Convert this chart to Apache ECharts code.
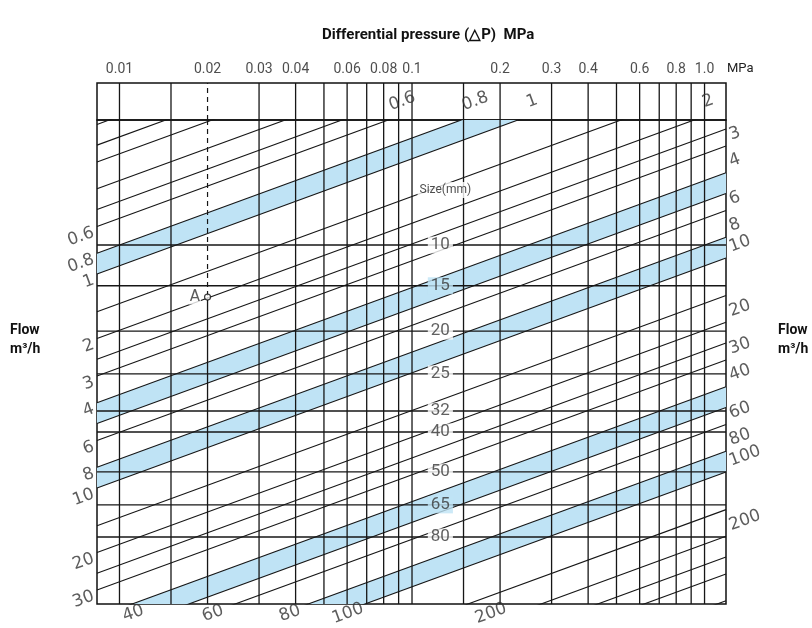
<!DOCTYPE html>
<html>
<head>
<meta charset="utf-8">
<script src="https://cdn.jsdelivr.net/npm/echarts/dist/echarts.min.js"></script>
<style>html,body{margin:0;padding:0;background:#fff}#c{width:812px;height:628px}</style>
</head>
<body>
<div id="c"></div>
<script>
// ---- data ----
const pressureLines = [0.01,0.015,0.02,0.03,0.04,0.05,0.06,0.07,0.08,0.09,0.1,0.15,0.2,0.3,0.4,0.5,0.6,0.7,0.8,0.9,1.0];
const pressureTickLabels = ['0.01','0.02','0.03','0.04','0.06','0.08','0.1','0.2','0.3','0.4','0.6','0.8','1.0'];
const sizeNames = ['10','15','20','25','32','40','50','65','80'];
const sizeCoef = [8.0,12.4,20.2,32.0,47.7,59.8,91.9,131,185];
const flowLines = [0.2,0.25,0.3,0.4,0.5,0.6,0.8,1,1.5,2,2.5,3,4,5,6,8,10,15,20,25,30,40,50,60,80,100,150,200,250,300,400];
const flowBands = [[0.8,1],[4,5],[8,10],[40,50],[80,100]];
const flowLabelsLeft = ['0.6','0.8','1','2','3','4','6','8','10','20','30'];
const flowLabelsRight = ['3','4','6','8','10','20','30','40','60','80','100','200'];
const flowLabelsTop = ['0.6','0.8','1','2'];
const flowLabelsBottom = ['40','60','80','100','200'];
const pointA = [0.02, 14.0];
const dpRange = [0.008378, 1.184];
const coefRange = [2.084, 380.6];

// ---- layout (label anchors, in axis units) ----
const sizeLabelPressure = 0.125;
const sizeTitleAt = [0.13, 4.43];
const bottomLabelPressure = [0.0109, 0.0204, 0.0374, 0.059, 0.182];

// ---- build ----
const dpMin = dpRange[0], dpMax = dpRange[1], kMin = coefRange[0], kMax = coefRange[1];
const ink = '#161616';
const bandColor = '#bfe3f5';
const series = [];

function seg(data, gi, style, z) {
  series.push({type:'line', xAxisIndex:gi, yAxisIndex:gi, data:data, symbol:'none', silent:true,
    animation:false, lineStyle:Object.assign({color:ink, width:1.2}, style||{}), z:z||3});
}

// bands
series.push({
  type:'custom', xAxisIndex:0, yAxisIndex:0, silent:true, animation:false, z:1,
  data: flowBands.map(b => [b[0], b[1]]),
  renderItem: function (params, api) {
    const b = flowBands[params.dataIndex];
    const pts = [
      api.coord([dpMin, b[0]/Math.sqrt(dpMin)]),
      api.coord([dpMax, b[0]/Math.sqrt(dpMax)]),
      api.coord([dpMax, b[1]/Math.sqrt(dpMax)]),
      api.coord([dpMin, b[1]/Math.sqrt(dpMin)])
    ];
    const cs = params.coordSys;
    return {type:'polygon', shape:{points:pts}, style:{fill:bandColor},
      clipPath:{type:'rect', shape:{x:cs.x, y:cs.y, width:cs.width, height:cs.height}}};
  }
});

// flow lines
flowLines.forEach(q => seg([[dpMin, q/Math.sqrt(dpMin)], [dpMax, q/Math.sqrt(dpMax)]], 0, {width:1.1}, 4));
// size lines
sizeCoef.forEach(k => seg([[dpMin, k], [dpMax, k]], 0, {width:1.4}, 3));
// pressure lines (body + header)
pressureLines.forEach(p => {
  if (p === pointA[0]) {
    seg([[p, kMin], [p, pointA[1]]], 0, {type:[5,4], width:1.2}, 3);
    seg([[p, pointA[1]], [p, kMax]], 0, {width:1.3}, 3);
    seg([[p, 0], [p, 1]], 1, {type:[5,4], width:1.2}, 3);
  } else {
    seg([[p, kMin], [p, kMax]], 0, {width:1.3}, 3);
    seg([[p, 0], [p, 1]], 1, {width:1.3}, 3);
  }
});

const flowFont = {fontFamily:"'DejaVu Sans', sans-serif", fontSize:17, color:'#333'};
function labels(points, texts, gi, lab, z, bgs) {
  series.push({type:'scatter', xAxisIndex:gi, yAxisIndex:gi, clip:false, silent:true, animation:false,
    symbolSize:1, itemStyle:{color:'rgba(0,0,0,0)'}, z:z||6,
    data: points.map((p, i) => ({value:p, label: bgs ? {formatter:texts[i], backgroundColor:bgs[i]} : {formatter:texts[i]}})),
    label: Object.assign({show:true}, lab)});
}
// flow labels
labels(flowLabelsLeft.map(t => [dpMin, parseFloat(t)/Math.sqrt(dpMin)]), flowLabelsLeft, 0,
  Object.assign({position:'left', distance:5, offset:[0,6], rotate:20}, flowFont));
labels(flowLabelsRight.map(t => [dpMax, parseFloat(t)/Math.sqrt(dpMax)]), flowLabelsRight, 0,
  Object.assign({position:'right', distance:7, offset:[0,-11], rotate:20}, flowFont));
labels(flowLabelsTop.map(t => [Math.pow(parseFloat(t)/kMin, 2), kMin]), flowLabelsTop, 0,
  Object.assign({position:'top', distance:4, offset:[18,0], rotate:20}, flowFont));
labels(bottomLabelPressure.map(p => [p, kMax]), flowLabelsBottom, 0,
  Object.assign({position:'bottom', distance:1, offset:[0,0], rotate:20}, flowFont));

// size labels (knock-out background matches band where the label sits inside one)
const sizeBgs = sizeCoef.map(k => {
  const q = k * Math.sqrt(sizeLabelPressure);
  return flowBands.some(b => q >= b[0] && q <= b[1]) ? bandColor : '#fff';
});
labels(sizeCoef.map(k => [sizeLabelPressure, k]), sizeNames, 0,
  {position:'inside', fontFamily:"'Roboto', sans-serif", fontSize:17, color:'#383838', padding:[0,3]}, 8, sizeBgs);
labels([sizeTitleAt], ['Size(mm)'], 0,
  {position:'inside', fontFamily:"'Roboto', sans-serif", fontSize:12, color:'#222',
   backgroundColor:'#fff', padding:[2,2]}, 8);

// header tick labels
labels(pressureTickLabels.map(t => [parseFloat(t), 1]), pressureTickLabels, 1,
  {position:'top', distance:6, fontFamily:"'Roboto', sans-serif", fontSize:14, color:'#222'});

// point A
series.push({type:'scatter', xAxisIndex:0, yAxisIndex:0, clip:false, silent:true, animation:false, z:9,
  data:[pointA], symbol:'circle', symbolSize:6,
  itemStyle:{color:'#fff', borderColor:'#111', borderWidth:1.2},
  label:{show:true, formatter:'A', position:'left', distance:3, fontFamily:"'DejaVu Sans', sans-serif",
    fontSize:15, color:'#333', backgroundColor:'#fff', padding:[0,1]}});

const chart = echarts.init(document.getElementById('c'), null, {renderer:'canvas'});
chart.setOption({
  backgroundColor:'#fff',
  animation:false,
  grid:[
    {left:97, top:120, width:629, height:484, show:true, borderColor:'#111', borderWidth:1.5, backgroundColor:'transparent', containLabel:false, outerBoundsMode:'none'},
    {left:97, top:83, width:629, height:37, show:true, borderColor:'#111', borderWidth:1.5, backgroundColor:'transparent', containLabel:false, outerBoundsMode:'none'}
  ],
  xAxis:[
    {type:'log', gridIndex:0, min:dpMin, max:dpMax, show:false},
    {type:'log', gridIndex:1, min:dpMin, max:dpMax, show:false}
  ],
  yAxis:[
    {type:'log', gridIndex:0, min:kMin, max:kMax, inverse:true, show:false},
    {type:'value', gridIndex:1, min:0, max:1, show:false}
  ],
  graphic:[
    {type:'text', left:322, top:28, style:{text:'Differential pressure (\u25B3P)  MPa', fontFamily:"'Roboto', sans-serif", fontWeight:'bold', fontSize:15, fill:'#111'}},
    {type:'text', left:727, top:62, style:{text:'MPa', fontFamily:"'Roboto', sans-serif", fontSize:13, fill:'#222'}},
    {type:'text', left:10, top:321, style:{text:'Flow\nm\u00B3/h', fontFamily:"'Roboto', sans-serif", fontWeight:'bold', fontSize:14, lineHeight:19, fill:'#111', align:'left'}},
    {type:'text', left:778, top:321, style:{text:'Flow\nm\u00B3/h', fontFamily:"'Roboto', sans-serif", fontWeight:'bold', fontSize:14, lineHeight:19, fill:'#111', align:'left'}}
  ],
  series: series
});
</script>
</body>
</html>
